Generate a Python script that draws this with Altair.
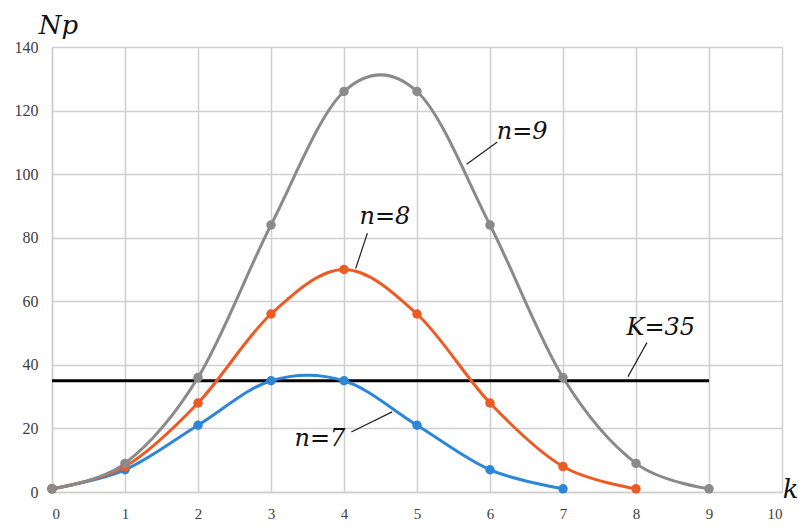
import altair as alt
import pandas as pd

k_values = list(range(10))
n7 = [1, 7, 21, 35, 35, 21, 7, 1]
n8 = [1, 8, 28, 56, 70, 56, 28, 8, 1]
n9 = [1, 9, 36, 84, 126, 126, 84, 36, 9, 1]
series_names = ["n=7", "n=8", "n=9"]
series_colors = ["#2E86D6", "#EE5A24", "#8A8A8A"]
K_level = 35
K_range = [0, 9]

x_ticks = list(range(0, 11))
y_ticks = list(range(0, 141, 20))

# annotations (data coordinates)
ann_text = ["n=9", "n=8", "n=7", "K=35"]
ann_tx = [6.44, 4.56, 3.67, 8.34]
ann_ty = [113.2, 86.4, 16.7, 51.7]
lead_x1 = [5.68, 4.32, 4.10, 8.15]
lead_y1 = [103.1, 81.4, 18.9, 47.0]
lead_x2 = [6.10, 4.16, 4.66, 7.89]
lead_y2 = [110.1, 70.3, 25.2, 36.3]

rows = []
for name, vals in zip(series_names, [n7, n8, n9]):
    for k, v in zip(k_values, vals):
        rows.append({"k": k, "Np": v, "series": name})
df = pd.DataFrame(rows)

kdf = pd.DataFrame({"k": K_range, "Np": [K_level, K_level]})
ann = pd.DataFrame({"text": ann_text, "x": ann_tx, "y": ann_ty})
leads = pd.DataFrame({"x1": lead_x1, "y1": lead_y1, "x2": lead_x2, "y2": lead_y2})

W, H = 730, 445
SERIF = "Liberation Serif"
ITAL = "DejaVu Serif"

xscale = alt.Scale(domain=[0, 10], nice=False, zero=False)
yscale = alt.Scale(domain=[0, 140], nice=False)
color = alt.Color("series:N", scale=alt.Scale(domain=series_names, range=series_colors), legend=None)

xaxis = alt.Axis(values=x_ticks, format="d", title="k", titleAngle=0, titleX=738, titleY=-3,
                 titleAlign="center", titleBaseline="middle", titleFont=ITAL,
                 titleFontStyle="italic", titleFontWeight="normal", titleFontSize=26,
                 titleColor="#111111", labelPadding=14, ticks=False,
                 domainColor="#d0d0d0", domainWidth=1.5, gridColor="#d0d0d0", gridWidth=1.5,
                 labelFont=SERIF, labelFontSize=15, labelColor="#404040")
yaxis = alt.Axis(values=y_ticks, format="d", title="Np", titleAngle=0, titleX=6, titleY=-22,
                 titleAlign="center", titleBaseline="middle", titleFont=ITAL,
                 titleFontStyle="italic", titleFontWeight="normal", titleFontSize=26,
                 titleColor="#111111", labelPadding=14, ticks=False,
                 domainColor="#d0d0d0", domainWidth=1.5, gridColor="#d0d0d0", gridWidth=1.5,
                 labelFont=SERIF, labelFontSize=16, labelColor="#404040")

base_grid = alt.Chart(df).mark_point(opacity=0).encode(
    x=alt.X("k:Q", scale=xscale, axis=xaxis),
    y=alt.Y("Np:Q", scale=yscale, axis=yaxis),
)

lines = alt.Chart(df).mark_line(interpolate="cardinal", strokeWidth=3).encode(
    x=alt.X("k:Q", scale=xscale),
    y=alt.Y("Np:Q", scale=yscale),
    color=color,
    detail="series:N",
)
points = alt.Chart(df).mark_circle(size=90, opacity=1).encode(
    x=alt.X("k:Q", scale=xscale),
    y=alt.Y("Np:Q", scale=yscale),
    color=color,
)
kline = alt.Chart(kdf).mark_line(color="black", strokeWidth=3).encode(
    x=alt.X("k:Q", scale=xscale),
    y=alt.Y("Np:Q", scale=yscale),
)
leaders = alt.Chart(leads).mark_rule(color="#222222", strokeWidth=1.2).encode(
    x=alt.X("x1:Q", scale=xscale),
    y=alt.Y("y1:Q", scale=yscale),
    x2="x2:Q",
    y2="y2:Q",
)
texts = alt.Chart(ann).mark_text(font=ITAL, fontStyle="italic", fontSize=24,
                                 color="#111111", align="center", baseline="middle").encode(
    x=alt.X("x:Q", scale=xscale),
    y=alt.Y("y:Q", scale=yscale),
    text="text:N",
)

chart = alt.layer(base_grid, kline, lines, points, leaders, texts).properties(
    width=W, height=H,
    padding={"left": 44, "top": 39, "right": 16, "bottom": 31},
    autosize=alt.AutoSizeParams(type="none"),
).configure_view(stroke=None).configure(background="white")

chart.save("out.html", embed_options={"renderer": "svg", "actions": False})
